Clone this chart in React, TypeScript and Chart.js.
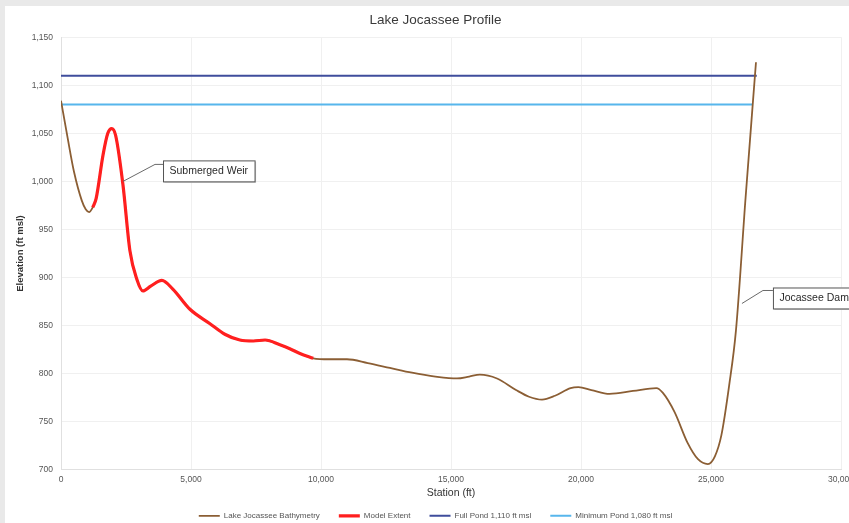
import React, { useEffect, useRef } from "react";
import { Chart, registerables } from "chart.js";

Chart.register(...registerables);

const CHART_TITLE = "Lake Jocassee Profile";
const X_TITLE = "Station (ft)";
const Y_TITLE = "Elevation (ft msl)";

// Bathymetry profile (station ft, elevation ft msl)
const stations = [
  0, 250, 500, 800, 950, 1080, 1220, 1350, 1620, 1800, 1950, 2100, 2385, 2650, 2920, 3150, 3450, 3880,
  4300, 4960, 5730, 6300, 6880, 7400, 7850, 8420, 8800, 9190, 9700, 10300, 11000, 11800,
  12650, 13500, 14400, 15230, 15700, 16110, 16770, 17500, 18000, 18500, 19000, 19600, 19900,
  20400, 21100, 22000, 22900, 23150, 23600, 24100, 24500, 24880, 25150, 25400, 25700, 25960,
  26330, 26730,
];
const elevations = [
  1084, 1046, 1010, 980, 971, 968, 973, 982, 1028, 1050, 1055, 1048, 996, 928, 898, 886, 891, 897,
  888, 867, 852, 841, 835, 834, 835, 830, 826, 821, 816, 815, 815, 811,
  806, 801, 797, 795, 797, 799, 795, 783, 776, 773, 777, 785, 786,
  783, 779, 782, 785, 780, 760, 728, 711, 706, 714, 736, 788, 845,
  983, 1124,
];

// Model extent (station range along the profile)
const modelExtentRange = [1220, 9700];

// Reservoir levels
const fullPondLevel = 1110;
const fullPondRange = [0, 26760];
const minPondLevel = 1080;
const minPondRange = [0, 26590];

const seriesLabels = [
  "Lake Jocassee Bathymetry",
  "Model Extent",
  "Full Pond 1,110 ft msl",
  "Minimum Pond 1,080 ft msl",
];

const xTickValues = [0, 5000, 10000, 15000, 20000, 25000, 30000];
const yTickValues = [700, 750, 800, 850, 900, 950, 1000, 1050, 1100, 1150];

const calloutLabels = ["Submerged Weir", "Jocassee Dam"];
const calloutStations = [2385, 26190];
const calloutElevations = [1000, 873];

const FONT = "'Liberation Sans', Arial, sans-serif";
const COLORS = ["#8b5e34", "#ff1f1f", "#3f4d9c", "#57b6ec"];
const CALLOUT_STYLE = [
  { dx: 32, dy: -17, gap: 8, top: -4 },
  { dx: 21, dy: -13, gap: 10, top: -3 },
];

const framePlugin = {
  id: "frame",
  beforeDraw(chart: any) {
    const { ctx, width, height } = chart;
    ctx.save();
    ctx.fillStyle = "#ffffff";
    ctx.fillRect(0, 0, width, height);
    ctx.fillStyle = "#e9e9e9";
    ctx.fillRect(0, 0, width, 6);
    ctx.fillRect(0, 0, 5, height);
    ctx.restore();
  },
};

const calloutPlugin = {
  id: "callouts",
  afterDatasetsDraw(chart: any) {
    const { ctx } = chart;
    const x = chart.scales.x;
    const y = chart.scales.y;
    ctx.save();
    calloutLabels.forEach((label, i) => {
      const st = CALLOUT_STYLE[i];
      const px = x.getPixelForValue(calloutStations[i]);
      const py = y.getPixelForValue(calloutElevations[i]);
      const ex = px + st.dx;
      const ey = py + st.dy;
      const bx = ex + st.gap;
      const by = ey + st.top;
      ctx.font = `10.5px ${FONT}`;
      const tw = ctx.measureText(label).width;
      const bw = tw + 13;
      const bh = 21;
      ctx.strokeStyle = "#6a6a6a";
      ctx.lineWidth = 1;
      ctx.beginPath();
      ctx.moveTo(px, py);
      ctx.lineTo(ex, ey);
      ctx.lineTo(bx, ey);
      ctx.stroke();
      ctx.fillStyle = "#d6d6d6";
      ctx.fillRect(bx + 1.5, by + 1.5, bw, bh);
      ctx.fillStyle = "#ffffff";
      ctx.fillRect(bx, by, bw, bh);
      ctx.strokeStyle = "#555555";
      ctx.strokeRect(bx + 0.5, by + 0.5, bw, bh);
      ctx.fillStyle = "#2a2a2a";
      ctx.textBaseline = "middle";
      ctx.textAlign = "left";
      ctx.fillText(label, bx + 6.5, by + bh / 2 + 0.5);
    });
    ctx.restore();
  },
};

export default function App() {
  const ref = useRef<HTMLCanvasElement>(null);

  useEffect(() => {
    document.body.style.margin = "0";
    const profile = stations.map((s, i) => ({ x: s, y: elevations[i] }));
    const model = profile.filter(
      (p) => p.x >= modelExtentRange[0] && p.x <= modelExtentRange[1]
    );
    const fullPond = fullPondRange.map((s) => ({ x: s, y: fullPondLevel }));
    const minPond = minPondRange.map((s) => ({ x: s, y: minPondLevel }));

    const chart = new Chart(ref.current as HTMLCanvasElement, {
      type: "line",
      data: {
        datasets: [
          {
            label: seriesLabels[0],
            data: profile,
            borderColor: COLORS[0],
            backgroundColor: COLORS[0],
            borderWidth: 1.8,
            pointRadius: 0,
            cubicInterpolationMode: "monotone",
            order: 1,
          },
          {
            label: seriesLabels[1],
            data: model,
            borderColor: COLORS[1],
            backgroundColor: COLORS[1],
            borderWidth: 3.2,
            pointRadius: 0,
            cubicInterpolationMode: "monotone",
            order: 0,
          },
          {
            label: seriesLabels[2],
            data: fullPond,
            borderColor: COLORS[2],
            backgroundColor: COLORS[2],
            borderWidth: 2,
            pointRadius: 0,
            order: 1,
          },
          {
            label: seriesLabels[3],
            data: minPond,
            borderColor: COLORS[3],
            backgroundColor: COLORS[3],
            borderWidth: 2,
            pointRadius: 0,
            order: 1,
          },
        ] as any,
      },
      options: {
        responsive: false,
        animation: false,
        events: [],
        layout: { padding: { left: 30, right: 8, top: 0, bottom: -6.8 } },
        plugins: {
          title: {
            display: true,
            text: CHART_TITLE,
            color: "#3a3a3a",
            font: { family: FONT, size: 13.5, weight: "normal" },
            padding: { top: 12, bottom: 9 },
          },
          legend: {
            position: "bottom",
            labels: {
              usePointStyle: true,
              pointStyle: "line",
              pointStyleWidth: 21,
              padding: 19,
              color: "#555555",
              font: { family: FONT, size: 8 },
              sort: (a: any, b: any) => a.datasetIndex - b.datasetIndex,
            },
          },
          tooltip: { enabled: false },
        },
        scales: {
          x: {
            type: "linear",
            min: 0,
            max: 30000,
            afterBuildTicks: (s: any) => {
              s.ticks = xTickValues.map((v) => ({ value: v }));
            },
            afterFit: (s: any) => {
              s.height = 23;
              s.paddingLeft = 0;
              s.paddingRight = 0;
            },
            grid: { color: "#f0f0f0", drawTicks: false },
            border: { color: "#e0e0e0" },
            ticks: {
              padding: 5,
              color: "#555555",
              font: { family: FONT, size: 8.5 },
              maxRotation: 0,
              autoSkip: false,
              callback: (v: any) => Number(v).toLocaleString("en-US"),
            },
            title: {
              display: true,
              text: X_TITLE,
              color: "#333333",
              font: { family: FONT, size: 10.5 },
              padding: { top: 0, bottom: -7 },
            },
          },
          y: {
            type: "linear",
            min: 700,
            max: 1150,
            afterBuildTicks: (s: any) => {
              s.ticks = yTickValues.map((v) => ({ value: v }));
            },
            afterFit: (s: any) => {
              s.width = 31;
            },
            grid: { color: "#f0f0f0", drawTicks: false },
            border: { color: "#e0e0e0" },
            ticks: {
              padding: 8,
              color: "#555555",
              font: { family: FONT, size: 8.5 },
              callback: (v: any) => Number(v).toLocaleString("en-US"),
            },
            title: {
              display: true,
              text: Y_TITLE,
              color: "#333333",
              font: { family: FONT, size: 9.5, weight: "bold" },
              padding: { top: -15.4, bottom: 0 },
            },
          },
        },
      } as any,
      plugins: [framePlugin, calloutPlugin],
    });
    return () => chart.destroy();
  }, []);

  return (
    <div style={{ width: 849, height: 523, position: "relative" }}>
      <canvas
        ref={ref}
        width={849}
        height={523}
        style={{ display: "block", width: 849, height: 523 }}
      />
    </div>
  );
}
